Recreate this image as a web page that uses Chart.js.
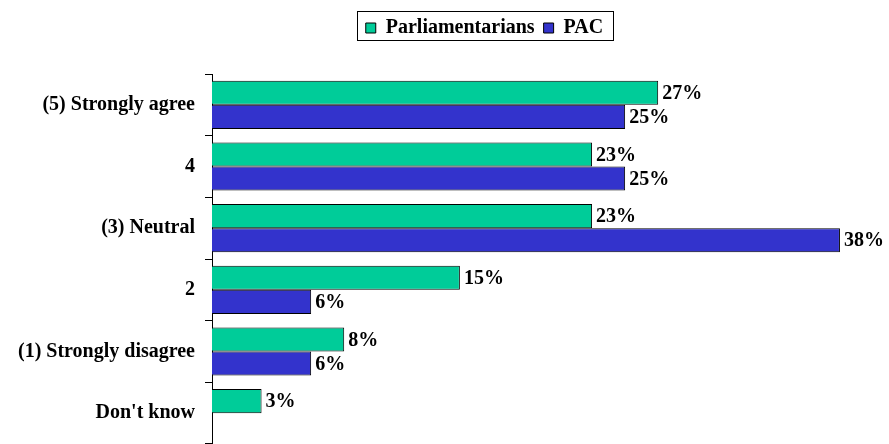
<!DOCTYPE html>
<html>
<head>
<meta charset="utf-8">
<script src="https://cdn.jsdelivr.net/npm/chart.js@4.4.1/dist/chart.umd.min.js"></script>
<style>
  html, body { margin: 0; padding: 0; background: #fff; }
  #wrap { width: 889px; height: 444px; }
</style>
</head>
<body>
<div id="wrap"><canvas id="surveyChart"></canvas></div>
<script>
const categories = ["(5) Strongly agree", "4", "(3) Neutral", "2", "(1) Strongly disagree", "Don't know"]
const parliamentarians = [27, 23, 23, 15, 8, 3]
const pac = [25, 25, 38, 6, 6, null]

const serif = "'Liberation Serif', 'Times New Roman', serif"

// value labels at bar ends
const barLabels = {
  id: "barLabels",
  afterDatasetsDraw(chart) {
    const ctx = chart.ctx
    ctx.save()
    ctx.font = "bold 20px " + serif
    ctx.fillStyle = "#000"
    ctx.textBaseline = "middle"
    ctx.textAlign = "left"
    chart.data.datasets.forEach((ds, i) => {
      chart.getDatasetMeta(i).data.forEach((bar, j) => {
        if (ds.data[j] == null) return
        ctx.fillText(ds.data[j] + "%", bar.x + 4, bar.y + 1)
      })
    })
    ctx.restore()
  },
}

// legend: extra space below, shifted right, boxed
const legendBox = {
  id: "legendBox",
  beforeInit(chart) {
    const fit = chart.legend.fit
    chart.legend.fit = function () {
      fit.bind(chart.legend)()
      this.height += 26
    }
  },
  afterLayout(chart) {
    const l = chart.legend
    l.left += 48
    l.right += 48
  },
  afterDraw(chart) {
    const boxes = chart.legend.legendHitBoxes
    if (!boxes || !boxes.length) return
    let left = Infinity, right = -Infinity, top = Infinity, bottom = -Infinity
    boxes.forEach((b) => {
      left = Math.min(left, b.left)
      right = Math.max(right, b.left + b.width)
      top = Math.min(top, b.top)
      bottom = Math.max(bottom, b.top + b.height)
    })
    const ctx = chart.ctx
    ctx.save()
    ctx.strokeStyle = "#000"
    ctx.lineWidth = 1
    ctx.strokeRect(Math.round(left - 9) + 0.5, Math.round(top - 7) + 0.5, Math.round(right - left + 19), Math.round(bottom - top + 9))
    ctx.restore()
  },
}

new Chart(document.getElementById("surveyChart"), {
  type: "bar",
  data: {
    labels: categories,
    datasets: [
      {
        label: "Parliamentarians",
        data: parliamentarians,
        backgroundColor: "#00CC99",
        borderColor: "#000",
        borderWidth: 1,
        categoryPercentage: 0.78,
        barPercentage: 1,
      },
      {
        label: "PAC",
        data: pac,
        backgroundColor: "#3333CC",
        borderColor: "#000",
        borderWidth: 1,
        categoryPercentage: 0.78,
        barPercentage: 1,
      },
    ],
  },
  options: {
    indexAxis: "y",
    responsive: true,
    maintainAspectRatio: false,
    animation: false,
    layout: { padding: { top: 9, right: 16, bottom: 0, left: 0 } },
    plugins: {
      legend: {
        position: "top",
        labels: {
          font: { family: serif, size: 20, weight: "bold" },
          color: "#000",
          boxWidth: 10,
          boxHeight: 10,
          padding: 9,
        },
      },
      tooltip: { enabled: false },
    },
    scales: {
      x: {
        display: false,
        min: 0,
        max: 40,
      },
      y: {
        afterFit(scale) {
          scale.width = 212
          scale.paddingTop = 0
          scale.paddingBottom = 0
        },
        grid: {
          drawOnChartArea: false,
          drawTicks: true,
          tickLength: 7,
          color: "#000",
          offset: true,
        },
        border: { color: "#000", width: 1 },
        ticks: {
          color: "#000",
          padding: 10,
          font: { family: serif, size: 20, weight: "bold" },
        },
      },
    },
  },
  plugins: [barLabels, legendBox],
})
</script>
</body>
</html>
